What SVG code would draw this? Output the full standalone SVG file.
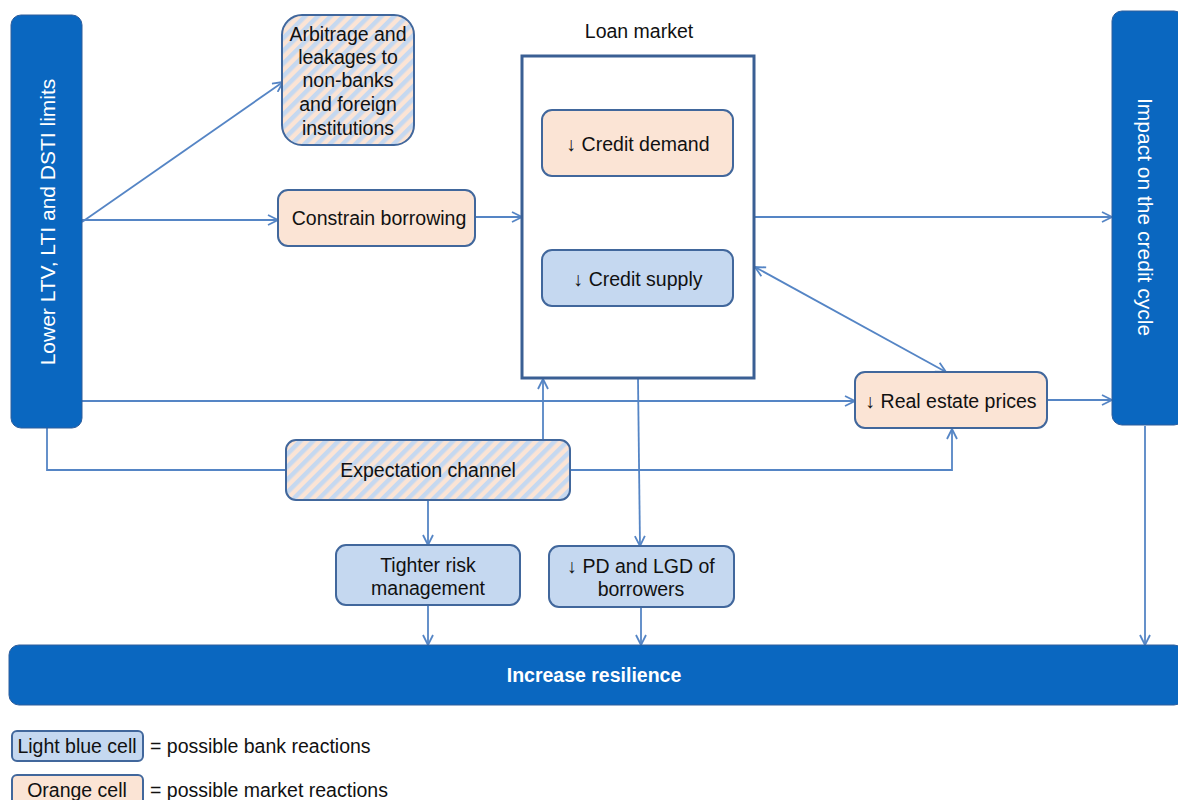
<svg xmlns="http://www.w3.org/2000/svg" width="1178" height="800" viewBox="0 0 1178 800">
<defs>
<style>
.t{font-family:"Liberation Sans",Arial,sans-serif;font-size:19.5px;fill:#111;text-anchor:middle;dominant-baseline:central}
.w{font-family:"Liberation Sans",Arial,sans-serif;font-size:21px;fill:#fff;text-anchor:middle;dominant-baseline:central}
.bar{fill:#0a67c0;stroke:#2f5e9c;stroke-width:1}
.or{fill:#fbe4d5;stroke:#41679c;stroke-width:2}
.lb{fill:#c5d8f0;stroke:#41679c;stroke-width:2}
.hat{fill:url(#hatch);stroke:#41679c;stroke-width:2}
.c{fill:none;stroke:#5585c5;stroke-width:1.8}
.a{marker-end:url(#arr)}
</style>
<pattern id="hatch" patternUnits="userSpaceOnUse" width="9" height="9" patternTransform="rotate(45)">
<rect width="9" height="9" fill="#fbe4d5"/>
<rect width="4.5" height="9" fill="#c5d8f0"/>
</pattern>
<marker id="arr" viewBox="0 0 12 12" refX="11" refY="6" markerWidth="12" markerHeight="12" markerUnits="userSpaceOnUse" orient="auto-start-reverse">
<path d="M1,1 L11,6 L1,11" fill="none" stroke="#5585c5" stroke-width="1.8"/>
</marker>
</defs>
<rect width="1178" height="800" fill="#fff"/>

<g id="connectors">
<line class="c a" x1="82" y1="222" x2="283" y2="82"/>
<line class="c a" x1="82" y1="220" x2="278" y2="220"/>
<line class="c a" x1="475" y1="217" x2="522" y2="217"/>
<line class="c a" x1="754" y1="217" x2="1112" y2="217"/>
<line class="c a" x1="946" y1="372" x2="755" y2="267" marker-start="url(#arr)"/>
<line class="c a" x1="82" y1="401" x2="855" y2="401"/>
<line class="c a" x1="1047" y1="400" x2="1112" y2="400"/>
<polyline class="c" points="47,428 47,470 286,470"/>
<polyline class="c a" points="570,470 952,470 952,429"/>
<line class="c a" x1="543" y1="440" x2="543" y2="379"/>
<line class="c a" x1="428" y1="500" x2="428" y2="545"/>
<line class="c a" x1="638" y1="379" x2="640" y2="546"/>
<line class="c a" x1="428" y1="606" x2="428" y2="645"/>
<line class="c a" x1="641" y1="607" x2="641" y2="645"/>
<line class="c a" x1="1145" y1="426" x2="1145" y2="645"/>
</g>

<g id="lower-limits">
<rect class="bar" x="11" y="15" width="71" height="413" rx="10"/>
<text class="w" transform="translate(47,222) rotate(-90)">Lower LTV, LTI and DSTI limits</text>
</g>

<g id="credit-cycle">
<rect class="bar" x="1112" y="11" width="72" height="414" rx="10"/>
<text class="w" transform="translate(1145,217) rotate(90)">Impact on the credit cycle</text>
</g>

<g id="resilience">
<rect class="bar" x="9" y="645" width="1175" height="60" rx="10"/>
<text class="w" x="594" y="675" font-weight="bold" style="font-size:19.5px">Increase resilience</text>
</g>

<g id="arbitrage">
<rect class="hat" x="282" y="15" width="132" height="130" rx="20"/>
<text class="t" x="348" y="34">Arbitrage and</text>
<text class="t" x="348" y="57">leakages to</text>
<text class="t" x="348" y="80">non-banks</text>
<text class="t" x="348" y="104">and foreign</text>
<text class="t" x="348" y="128">institutions</text>
</g>

<g id="constrain">
<rect class="or" x="278" y="190" width="197" height="56" rx="10"/>
<text class="t" x="379" y="218">Constrain borrowing</text>
</g>

<g id="loan-market">
<text class="t" x="639" y="31">Loan market</text>
<rect x="522" y="56" width="232" height="322" fill="#fff" stroke="#3a5f94" stroke-width="3"/>
</g>

<g id="credit-demand">
<rect class="or" x="542" y="110" width="191" height="66" rx="10"/>
<text class="t" x="638" y="144">↓ Credit demand</text>
</g>

<g id="credit-supply">
<rect class="lb" x="542" y="250" width="191" height="56" rx="10"/>
<text class="t" x="638" y="279">↓ Credit supply</text>
</g>

<g id="real-estate">
<rect class="or" x="855" y="372" width="192" height="56" rx="10"/>
<text class="t" x="951" y="401">↓ Real estate prices</text>
</g>

<g id="expectation">
<rect class="hat" x="286" y="440" width="284" height="60" rx="10"/>
<text class="t" x="428" y="470">Expectation channel</text>
</g>

<g id="tighter-risk">
<rect class="lb" x="336" y="545" width="184" height="60" rx="10"/>
<text class="t" x="428" y="565">Tighter risk</text>
<text class="t" x="428" y="588">management</text>
</g>

<g id="pd-lgd">
<rect class="lb" x="549" y="546" width="185" height="61" rx="10"/>
<text class="t" x="641" y="566">↓ PD and LGD of</text>
<text class="t" x="641" y="589">borrowers</text>
</g>

<g id="legend">
<rect class="lb" x="12" y="731" width="131" height="30" rx="5"/>
<text class="t" x="77" y="746">Light blue cell</text>
<text class="t" x="150" y="746" style="text-anchor:start">= possible bank reactions</text>
<rect class="or" x="12" y="775" width="131" height="30" rx="5"/>
<text class="t" x="77" y="790">Orange cell</text>
<text class="t" x="150" y="790" style="text-anchor:start">= possible market reactions</text>
</g>
</svg>
